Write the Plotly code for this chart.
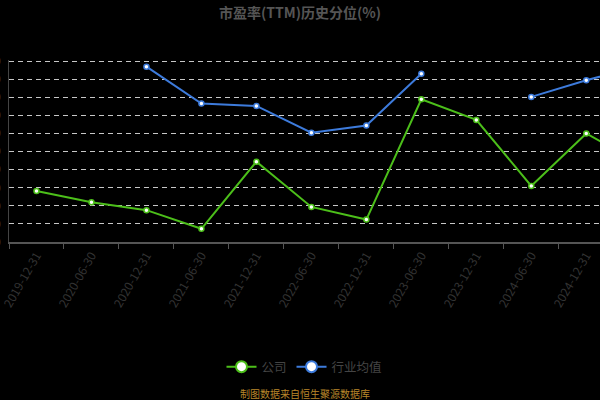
import plotly.graph_objs as go

# report dates (last one sits past the right edge of the picture)
dates = ["2019-12-31", "2020-06-30", "2020-12-31", "2021-06-30", "2021-12-31", "2022-06-30",
         "2022-12-31", "2023-06-30", "2023-12-31", "2024-06-30", "2024-12-31", "2025-06-30"]

company = [28.2, 22.0, 17.6, 7.3, 44.4, 19.4, 12.4, 78.9, 67.5, 31.0, 60.0, 43.0]
industry = [None, None, 96.9, 76.5, 75.2, 60.4, 64.4, 93.0, None, 80.2, 89.4, 97.5]

y_ticks = [0, 10, 20, 30, 40, 50, 60, 70, 80, 90, 100]

green = "#4cbf1a"
blue = "#3d7bdc"
cjk = "Noto Sans CJK SC"

fig = go.Figure()

for name, vals, color in [("公司", company, green), ("行业均值", industry, blue)]:
    fig.add_trace(go.Scatter(
        x=dates, y=vals, mode="lines+markers", name=name, showlegend=False,
        line=dict(color=color, width=2),
        marker=dict(symbol="circle", size=5, color="white", line=dict(color=color, width=1.5)),
        connectgaps=False, cliponaxis=True,
    ))
    # bigger marker for the legend entry
    fig.add_trace(go.Scatter(
        x=[None], y=[None], mode="lines+markers", name=name,
        line=dict(color=color, width=2),
        marker=dict(symbol="circle", size=11, color="white", line=dict(color=color, width=2)),
    ))

fig.add_annotation(
    text="制图数据来自恒生聚源数据库", xref="paper", yref="paper", x=0.5, y=-0.835,
    xanchor="center", yanchor="middle", showarrow=False,
    font=dict(family=cjk, size=10, color="#b8862a"),
)

layout = go.Layout(
    width=600, height=400,
    paper_bgcolor="black", plot_bgcolor="black",
    margin=dict(l=9, r=0, t=60, b=158, autoexpand=False),
    font=dict(family=cjk, color="#444444"),
    title=dict(text="市盈率(TTM)历史分位(%)", x=0.5, xanchor="center", y=0.968, yanchor="middle",
               yref="container", font=dict(family=cjk, size=14, color="#555555", weight="bold")),
    xaxis=dict(
        type="category", categoryorder="array", categoryarray=dates,
        range=[-0.5, 10.25], showgrid=False, zeroline=False,
        showline=True, linecolor="#555555", linewidth=1.5,
        ticks="outside", ticklen=5, tickcolor="#555555", tickson="boundaries",
        tickangle=-60, tickfont=dict(size=12, color="#333333"),
    ),
    yaxis=dict(
        range=[0, 100.6], tickvals=y_ticks, automargin=False,
        showgrid=True, gridcolor="#c8c8c8", gridwidth=1, griddash="5px,4px",
        zeroline=False, showline=True, linecolor="#444444", linewidth=1,
        ticks="", ticklabelstandoff=5, tickfont=dict(size=11, color="#444444"),
    ),
    legend=dict(orientation="h", x=0.5, xanchor="center", y=-0.687, yanchor="middle",
                font=dict(family=cjk, size=12.5, color="#444444"), bgcolor="rgba(0,0,0,0)",
                itemwidth=30),
    hovermode=False,
)
fig.update_layout(layout)

# page margin off so the figure fills the window like the reference
fig.write_html("out.html", config={"displayModeBar": False},
               post_script="document.body.style.margin='0';document.body.style.background='black';")
